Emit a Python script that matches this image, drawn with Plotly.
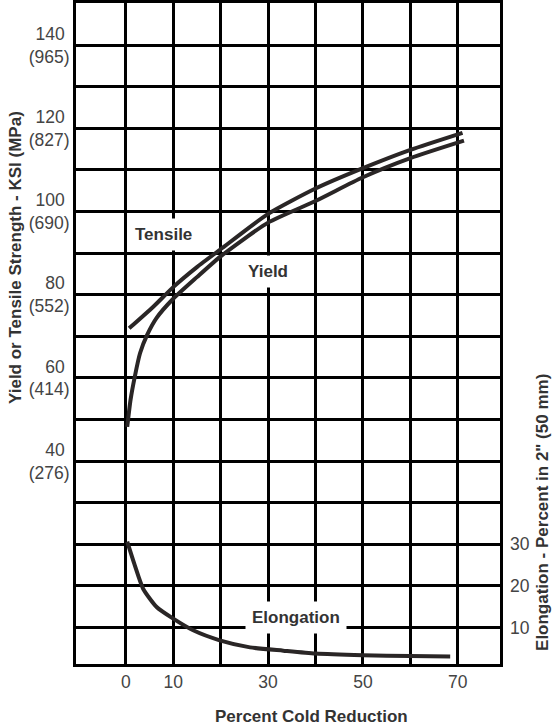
import plotly.graph_objects as go

# Data
tensile_x = [0.7, 5.8, 10, 15, 20, 30, 40, 50, 60, 71]
tensile_y = [71.9, 77.1, 81.8, 86.6, 90.9, 99.4, 105.5, 110.4, 114.8, 118.9]

yield_x = [0.3, 1.0, 1.9, 3.0, 4.5, 6.5, 10, 15, 20, 30, 40, 50, 60, 71.3]
yield_y = [48.2, 54.7, 60.3, 65.9, 70.3, 74.4, 79.0, 84.2, 89.2, 97.3, 102.5, 108.2, 112.8, 117.0]

elong_x = [0.3, 1.9, 3.65, 6.5, 10, 14.2, 19.8, 26.2, 33.2, 40, 50, 60, 68.4]
elong_y = [30.6, 24.9, 19.3, 14.9, 12.1, 9.3, 6.9, 5.2, 4.4, 3.7, 3.3, 3.1, 3.0]

x_tickvals = [0, 10, 20, 30, 40, 50, 60, 70]
x_ticktext = ["0", "10", "", "30", "", "50", "", "70"]

y_tickvals = [0, 10, 20, 30, 40, 50, 60, 70, 80, 90, 100, 110, 120, 130, 140]
y_ticktext = ["", "", "", "", "40\u00a0<br>(276)", "", "60\u00a0<br>(414)", "", "80\u00a0<br>(552)", "",
              "100\u00a0<br>(690)", "", "120\u00a0<br>(827)", "", "140\u00a0<br>(965)"]

y2_tickvals = [10, 20, 30]
y2_ticktext = ["10", "20", "30"]

curve_color = "#2a2626"
font_family = "Liberation Sans, Arial, sans-serif"
tick_color = "#444444"
title_color = "#333333"

fig = go.Figure()
line_style = dict(color=curve_color, width=4, shape="spline", smoothing=0.6)
fig.add_trace(go.Scatter(x=tensile_x, y=tensile_y, mode="lines", line=line_style,
                         showlegend=False, hoverinfo="skip"))
fig.add_trace(go.Scatter(x=yield_x, y=yield_y, mode="lines", line=line_style,
                         showlegend=False, hoverinfo="skip"))
fig.add_trace(go.Scatter(x=elong_x, y=elong_y, mode="lines", yaxis="y2", line=line_style,
                         showlegend=False, hoverinfo="skip"))

tick_font = dict(family=font_family, size=17.5, color=tick_color)
fig.update_layout(
    width=554, height=727,
    margin=dict(l=76, r=54, t=3, b=63),
    paper_bgcolor="white", plot_bgcolor="white",
    font=dict(family=font_family, size=17, color=tick_color),
    xaxis=dict(range=[-10.5, 78.9], tickvals=x_tickvals, ticktext=x_ticktext,
               showgrid=True, gridcolor="black", gridwidth=3, zeroline=False,
               showline=True, linecolor="black", linewidth=3, mirror=True,
               ticks="", tickfont=tick_font, automargin=False),
    yaxis=dict(range=[-8.8, 150.1], tickvals=y_tickvals, ticktext=y_ticktext,
               showgrid=True, gridcolor="black", gridwidth=3, zeroline=False,
               showline=True, linecolor="black", linewidth=3, mirror=True,
               ticks="", tickfont=tick_font, automargin=False),
    yaxis2=dict(range=[1.2, 160.1], overlaying="y", side="right",
                tickvals=y2_tickvals, ticktext=y2_ticktext, showgrid=False,
                zeroline=False, showline=False, ticks="", ticklabelstandoff=9,
                tickfont=tick_font, automargin=False),
)

label_font = dict(family=font_family, size=17, color=title_color)
for lx, ly, lt in [(8.0, 94.5, "Tensile"), (30, 85.6, "Yield"), (35.9, 2.3, "Elongation")]:
    fig.add_annotation(x=lx, y=ly, text="<b>" + lt + "</b>", showarrow=False,
                       xanchor="center", yanchor="middle",
                       bgcolor="white", borderpad=6, font=label_font)

title_font = dict(family=font_family, size=17, color=title_color)
fig.add_annotation(xref="paper", yref="paper", x=0.5566, y=-0.0787,
                   xanchor="center", yanchor="middle",
                   text="<b>Percent Cold Reduction</b>", showarrow=False, font=title_font)
fig.add_annotation(xref="paper", yref="paper", x=-0.1439, y=0.6157, textangle=-90,
                   xanchor="center", yanchor="middle",
                   text="<b>Yield or Tensile Strength - KSI (MPa)</b>", showarrow=False,
                   font=title_font)
fig.add_annotation(xref="paper", yref="paper", x=1.1014, y=0.23, textangle=-90,
                   xanchor="center", yanchor="middle",
                   text="<b>Elongation - Percent in 2\" (50 mm)</b>", showarrow=False,
                   font=title_font)

fig.write_html("out.html", config={"displayModeBar": False},
               post_script="document.body.style.margin='0';")
